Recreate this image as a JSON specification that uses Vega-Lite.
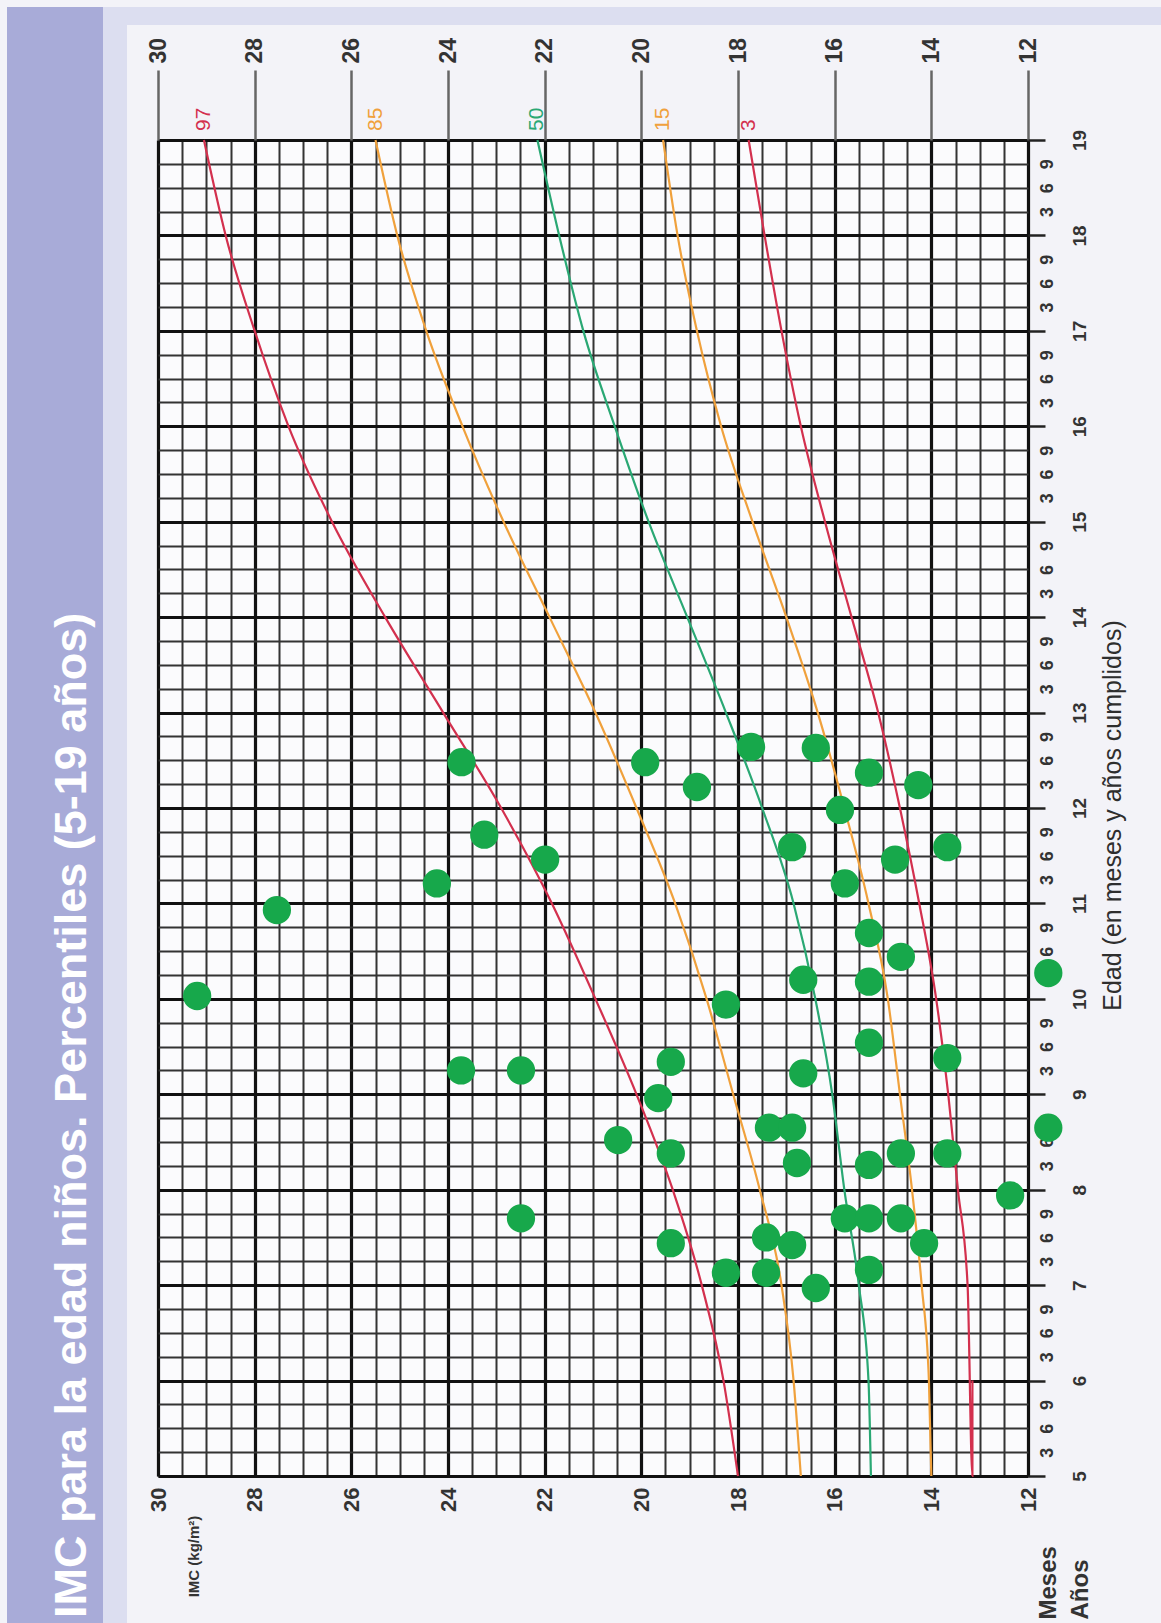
{
  "$schema": "https://vega.github.io/schema/vega-lite/v6.json",
  "background": "#f3f3f8",
  "padding": {"left": 7, "top": 7, "right": 0, "bottom": 0},
  "bounds": "flush",
  "spacing": 0,
  "config": {"view": {"stroke": null}},
  "datasets": {
    "curves": [
      {"pct": "97", "age": 5, "imc": 18.0}, {"pct": "97", "age": 6, "imc": 18.3}, {"pct": "97", "age": 7, "imc": 18.75}, {"pct": "97", "age": 8, "imc": 19.35}, {"pct": "97", "age": 9, "imc": 20.1}, {"pct": "97", "age": 10, "imc": 20.95}, {"pct": "97", "age": 11, "imc": 21.85}, {"pct": "97", "age": 12, "imc": 22.9}, {"pct": "97", "age": 13, "imc": 24.1}, {"pct": "97", "age": 14, "imc": 25.3}, {"pct": "97", "age": 15, "imc": 26.4}, {"pct": "97", "age": 16, "imc": 27.3}, {"pct": "97", "age": 17, "imc": 28.0}, {"pct": "97", "age": 18, "imc": 28.6}, {"pct": "97", "age": 19, "imc": 29.05},
      {"pct": "85", "age": 5, "imc": 16.7}, {"pct": "85", "age": 6, "imc": 16.85}, {"pct": "85", "age": 7, "imc": 17.1}, {"pct": "85", "age": 8, "imc": 17.55}, {"pct": "85", "age": 9, "imc": 18.1}, {"pct": "85", "age": 10, "imc": 18.65}, {"pct": "85", "age": 11, "imc": 19.3}, {"pct": "85", "age": 12, "imc": 20.1}, {"pct": "85", "age": 13, "imc": 20.95}, {"pct": "85", "age": 14, "imc": 21.9}, {"pct": "85", "age": 15, "imc": 22.85}, {"pct": "85", "age": 16, "imc": 23.7}, {"pct": "85", "age": 17, "imc": 24.45}, {"pct": "85", "age": 18, "imc": 25.05}, {"pct": "85", "age": 19, "imc": 25.5},
      {"pct": "50", "age": 5, "imc": 15.25}, {"pct": "50", "age": 6, "imc": 15.3}, {"pct": "50", "age": 7, "imc": 15.5}, {"pct": "50", "age": 8, "imc": 15.8}, {"pct": "50", "age": 9, "imc": 16.05}, {"pct": "50", "age": 10, "imc": 16.4}, {"pct": "50", "age": 11, "imc": 16.85}, {"pct": "50", "age": 12, "imc": 17.5}, {"pct": "50", "age": 13, "imc": 18.25}, {"pct": "50", "age": 14, "imc": 19.05}, {"pct": "50", "age": 15, "imc": 19.85}, {"pct": "50", "age": 16, "imc": 20.55}, {"pct": "50", "age": 17, "imc": 21.2}, {"pct": "50", "age": 18, "imc": 21.7}, {"pct": "50", "age": 19, "imc": 22.15},
      {"pct": "15", "age": 5, "imc": 14.0}, {"pct": "15", "age": 6, "imc": 14.05}, {"pct": "15", "age": 7, "imc": 14.2}, {"pct": "15", "age": 8, "imc": 14.4}, {"pct": "15", "age": 9, "imc": 14.65}, {"pct": "15", "age": 10, "imc": 14.9}, {"pct": "15", "age": 11, "imc": 15.3}, {"pct": "15", "age": 12, "imc": 15.8}, {"pct": "15", "age": 13, "imc": 16.35}, {"pct": "15", "age": 14, "imc": 17.0}, {"pct": "15", "age": 15, "imc": 17.7}, {"pct": "15", "age": 16, "imc": 18.35}, {"pct": "15", "age": 17, "imc": 18.85}, {"pct": "15", "age": 18, "imc": 19.25}, {"pct": "15", "age": 19, "imc": 19.55},
      {"pct": "3", "age": 5, "imc": 13.15}, {"pct": "3", "age": 6, "imc": 13.15}, {"pct": "3", "age": 7, "imc": 13.25}, {"pct": "3", "age": 8, "imc": 13.45}, {"pct": "3", "age": 9, "imc": 13.65}, {"pct": "3", "age": 10, "imc": 13.9}, {"pct": "3", "age": 11, "imc": 14.25}, {"pct": "3", "age": 12, "imc": 14.65}, {"pct": "3", "age": 13, "imc": 15.1}, {"pct": "3", "age": 14, "imc": 15.65}, {"pct": "3", "age": 15, "imc": 16.2}, {"pct": "3", "age": 16, "imc": 16.7}, {"pct": "3", "age": 17, "imc": 17.1}, {"pct": "3", "age": 18, "imc": 17.45}, {"pct": "3", "age": 19, "imc": 17.78}
    ],
    "kids": [
      {"imc": 29.19, "age": 10.03}, {"imc": 27.54, "age": 10.93}, {"imc": 24.23, "age": 11.21}, {"imc": 23.25, "age": 11.72},
      {"imc": 23.72, "age": 12.48}, {"imc": 21.99, "age": 11.46}, {"imc": 19.92, "age": 12.48}, {"imc": 18.85, "age": 12.22},
      {"imc": 17.73, "age": 12.64}, {"imc": 16.39, "age": 12.63}, {"imc": 15.29, "age": 12.37}, {"imc": 15.89, "age": 11.98},
      {"imc": 14.27, "age": 12.24}, {"imc": 16.88, "age": 11.59}, {"imc": 14.75, "age": 11.46}, {"imc": 13.67, "age": 11.59},
      {"imc": 15.79, "age": 11.21}, {"imc": 15.29, "age": 10.69}, {"imc": 14.63, "age": 10.44}, {"imc": 11.58, "age": 10.27},
      {"imc": 16.65, "age": 10.2}, {"imc": 15.29, "age": 10.18}, {"imc": 18.25, "age": 9.94}, {"imc": 15.29, "age": 9.54},
      {"imc": 13.67, "age": 9.38}, {"imc": 23.73, "age": 9.25}, {"imc": 22.49, "age": 9.25}, {"imc": 19.39, "age": 9.34},
      {"imc": 19.65, "age": 8.96}, {"imc": 16.65, "age": 9.22}, {"imc": 20.48, "age": 8.52}, {"imc": 19.39, "age": 8.38},
      {"imc": 17.36, "age": 8.65}, {"imc": 16.88, "age": 8.65}, {"imc": 11.58, "age": 8.65}, {"imc": 16.78, "age": 8.28},
      {"imc": 15.29, "age": 8.26}, {"imc": 14.63, "age": 8.38}, {"imc": 13.67, "age": 8.38}, {"imc": 12.37, "age": 7.94},
      {"imc": 22.49, "age": 7.7}, {"imc": 15.79, "age": 7.7}, {"imc": 15.29, "age": 7.7}, {"imc": 14.63, "age": 7.7},
      {"imc": 19.39, "age": 7.44}, {"imc": 17.42, "age": 7.5}, {"imc": 16.88, "age": 7.42}, {"imc": 14.15, "age": 7.44},
      {"imc": 18.25, "age": 7.13}, {"imc": 17.42, "age": 7.13}, {"imc": 15.29, "age": 7.16}, {"imc": 16.39, "age": 6.97}
    ]
  },
  "hconcat": [
    {
      "width": 96,
      "height": 1616,
      "view": {"fill": "#a8abd8", "stroke": null},
      "data": {"values": [{"t": "IMC para la edad niños. Percentiles (5-19 años)"}]},
      "mark": {"type": "text", "angle": 270, "align": "left", "baseline": "alphabetic", "dx": 5, "dy": 31, "font": "Liberation Sans", "fontSize": 45, "fontWeight": "bold", "color": "#ffffff"},
      "encoding": {
        "text": {"field": "t", "type": "nominal"},
        "y": {"datum": 0, "type": "quantitative", "scale": {"domain": [0, 1]}, "axis": null}
      }
    },
    {
      "bounds": "flush",
      "spacing": 0,
      "vconcat": [
        {
          "width": 1058,
          "height": 18,
          "view": {"fill": "#dcdef0", "stroke": null},
          "data": {"values": []},
          "mark": {"type": "point"}
        },
        {
          "bounds": "flush",
          "spacing": 0,
          "hconcat": [
            {
              "width": 24,
              "height": 1598,
              "view": {"fill": "#dcdef0", "stroke": null},
              "data": {"values": []},
              "mark": {"type": "point"}
            },
            {
              "width": 31,
              "height": 1598,
              "data": {"values": []},
              "mark": {"type": "point"}
            },
            {
              "bounds": "flush",
              "spacing": 114,
              "vconcat": [
                {
                  "width": 870,
                  "height": 1,
                  "data": {"values": []},
                  "mark": {"type": "point"}
                },
                {
                  "width": 870,
                  "height": 1336,
                  "view": {"fill": "#fbfbfd", "stroke": null},
                  "resolve": {"axis": {"x": "independent", "y": "independent"}},
                  "layer": [
                    {
                      "data": {"name": "curves"},
                      "mark": {"type": "line", "strokeWidth": 2.2, "interpolate": "monotone"},
                      "encoding": {
                        "x": {
                          "field": "imc", "type": "quantitative",
                          "scale": {"domain": [12, 30], "reverse": true, "nice": false, "zero": false},
                          "axis": {
                            "orient": "bottom",
                            "values": [12,12.5,13,13.5,14,14.5,15,15.5,16,16.5,17,17.5,18,18.5,19,19.5,20,20.5,21,21.5,22,22.5,23,23.5,24,24.5,25,25.5,26,26.5,27,27.5,28,28.5,29,29.5,30],
                            "grid": true, "gridColor": "#333333", "gridWidth": 2,
                            "labels": false, "ticks": false, "tickSize": 0, "domain": false, "title": null
                          }
                        },
                        "y": {
                          "field": "age", "type": "quantitative",
                          "scale": {"domain": [5, 19], "nice": false, "zero": false},
                          "axis": {
                            "orient": "right",
                            "values": [5,5.25,5.5,5.75,6,6.25,6.5,6.75,7,7.25,7.5,7.75,8,8.25,8.5,8.75,9,9.25,9.5,9.75,10,10.25,10.5,10.75,11,11.25,11.5,11.75,12,12.25,12.5,12.75,13,13.25,13.5,13.75,14,14.25,14.5,14.75,15,15.25,15.5,15.75,16,16.25,16.5,16.75,17,17.25,17.5,17.75,18,18.25,18.5,18.75,19],
                            "grid": true, "gridColor": "#333333", "gridWidth": 2,
                            "labels": false, "ticks": false, "tickSize": 0, "domain": false,
                            "title": "Edad (en meses y años cumplidos)",
                            "titleAngle": 270, "titleAlign": "center", "titleBaseline": "middle",
                            "titleX": 84, "titleY": 675,
                            "titleFont": "Liberation Sans", "titleFontSize": 25, "titleFontWeight": "normal", "titleColor": "#2e2e2e"
                          }
                        },
                        "color": {
                          "field": "pct", "type": "nominal",
                          "scale": {"domain": ["97", "85", "50", "15", "3"], "range": ["#d3304e", "#f0a13c", "#2aa874", "#f0a13c", "#d3304e"]},
                          "legend": null
                        }
                      }
                    },
                    {
                      "data": {"name": "kids"},
                      "mark": {"type": "circle", "size": 800, "opacity": 1, "color": "#17a84b"},
                      "encoding": {
                        "x": {
                          "field": "imc", "type": "quantitative",
                          "axis": {
                            "orient": "top",
                            "values": [12,14,16,18,20,22,24,26,28,30],
                            "grid": true, "gridColor": "#111111", "gridWidth": 3.2,
                            "ticks": true, "tickSize": 70, "tickColor": "#666666", "tickWidth": 2.5,
                            "domain": false,
                            "labelAngle": 270, "labelAlign": "left", "labelBaseline": "middle", "labelPadding": 7,
                            "labelFont": "Liberation Sans", "labelFontSize": 23, "labelFontWeight": "bold", "labelColor": "#333333",
                            "title": null
                          }
                        },
                        "y": {
                          "field": "age", "type": "quantitative",
                          "axis": {
                            "orient": "right",
                            "values": [5,6,7,8,9,10,11,12,13,14,15,16,17,18,19],
                            "grid": true, "gridColor": "#111111", "gridWidth": 3.2,
                            "ticks": true, "tickSize": 17, "tickColor": "#222222", "tickWidth": 2.5,
                            "domain": false,
                            "labelAngle": 270, "labelAlign": "center", "labelBaseline": "top", "labelPadding": 25,
                            "labelFont": "Liberation Sans", "labelFontSize": 19, "labelFontWeight": "bold", "labelColor": "#333333",
                            "title": "Años",
                            "titleAngle": 270, "titleAlign": "left", "titleBaseline": "top",
                            "titleX": 40, "titleY": 1479,
                            "titleFont": "Liberation Sans", "titleFontSize": 24, "titleFontWeight": "bold", "titleColor": "#333333"
                          }
                        }
                      }
                    },
                    {
                      "data": {"values": []},
                      "mark": {"type": "point"},
                      "encoding": {
                        "x": {
                          "field": "imc", "type": "quantitative",
                          "axis": {
                            "orient": "bottom",
                            "values": [12,14,16,18,20,22,24,26,28,30],
                            "grid": false, "ticks": false, "tickSize": 0, "domain": false,
                            "labelAngle": 270, "labelAlign": "right", "labelBaseline": "middle", "labelPadding": 11,
                            "labelFont": "Liberation Sans", "labelFontSize": 22, "labelFontWeight": "bold", "labelColor": "#333333",
                            "title": "IMC (kg/m²)",
                            "titleAngle": 270, "titleAlign": "center", "titleBaseline": "middle",
                            "titleX": 35, "titleY": 80,
                            "titleFont": "Liberation Sans", "titleFontSize": 15, "titleFontWeight": "bold", "titleColor": "#333333"
                          }
                        },
                        "y": {
                          "field": "age", "type": "quantitative",
                          "axis": {
                            "orient": "right",
                            "values": [5.25,5.5,5.75,6.25,6.5,6.75,7.25,7.5,7.75,8.25,8.5,8.75,9.25,9.5,9.75,10.25,10.5,10.75,11.25,11.5,11.75,12.25,12.5,12.75,13.25,13.5,13.75,14.25,14.5,14.75,15.25,15.5,15.75,16.25,16.5,16.75,17.25,17.5,17.75,18.25,18.5,18.75],
                            "labelExpr": "round((datum.value - floor(datum.value)) * 12)",
                            "grid": false, "ticks": false, "tickSize": 0, "domain": false,
                            "labelAngle": 270, "labelAlign": "center", "labelBaseline": "top", "labelPadding": 10,
                            "labelFont": "Liberation Sans", "labelFontSize": 18, "labelFontWeight": "bold", "labelColor": "#333333",
                            "title": "Meses",
                            "titleAngle": 270, "titleAlign": "left", "titleBaseline": "top",
                            "titleX": 8, "titleY": 1479,
                            "titleFont": "Liberation Sans", "titleFontSize": 24, "titleFontWeight": "bold", "titleColor": "#333333"
                          }
                        }
                      }
                    },
                    {
                      "data": {"name": "curves"},
                      "transform": [{"filter": "datum.age == 19"}],
                      "mark": {"type": "text", "angle": 270, "align": "left", "baseline": "middle", "dx": 9, "dy": 0, "font": "Liberation Sans", "fontSize": 21},
                      "encoding": {
                        "x": {"field": "imc", "type": "quantitative", "axis": null},
                        "y": {"field": "age", "type": "quantitative", "axis": null},
                        "text": {"field": "pct", "type": "nominal"},
                        "color": {"field": "pct", "type": "nominal", "legend": null}
                      }
                    }
                  ]
                }
              ]
            }
          ]
        }
      ]
    }
  ]
}
